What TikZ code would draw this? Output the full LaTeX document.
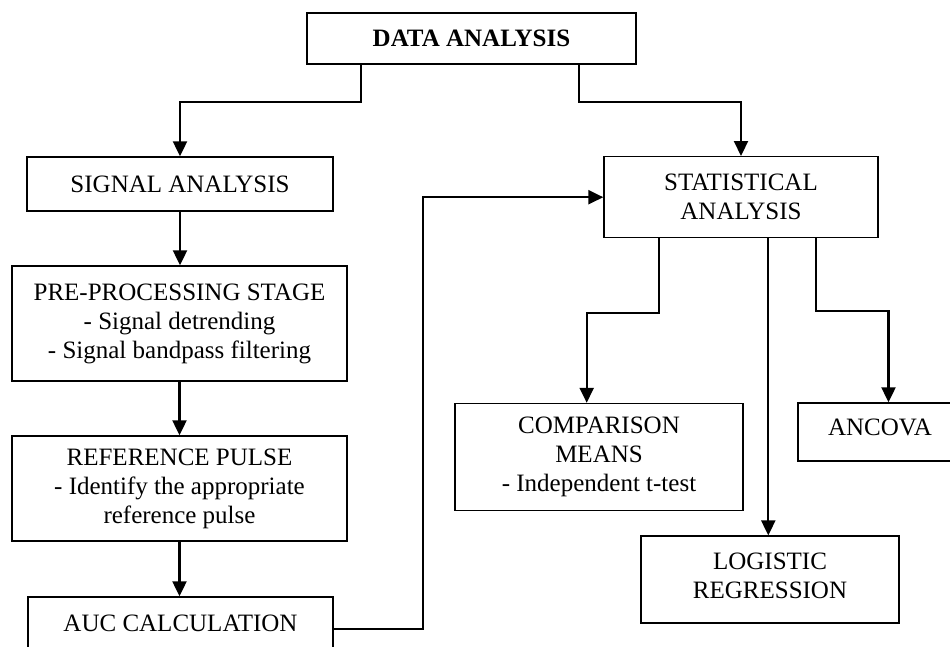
\documentclass[tikz,border=0pt]{standalone}
\usepackage{fontspec}
\setmainfont{Liberation Serif}
\usetikzlibrary{arrows.meta}
\begin{document}
\begin{tikzpicture}[x=1pt,y=-1pt,
  box/.style={draw=black, line width=1.4pt, inner sep=0pt, align=center,
    font=\fontsize{25}{29}\selectfont},
  txt/.style={inner sep=0pt, align=center, font=\fontsize{25}{29}\selectfont},
  conn/.style={line width=2.2pt, -{Triangle[length=15pt,width=14pt]}}]
\useasboundingbox (0,0) rectangle (950,646);
\clip (0,0) rectangle (950,646);
% boxes
\node[box, minimum width=329pt, minimum height=51pt] (da) at (471.5,38.5) {\textbf{DATA ANALYSIS}};
\node[box, minimum width=306pt, minimum height=54pt] (sig) at (180,184) {SIGNAL ANALYSIS};
\node[box, minimum width=335pt, minimum height=115pt] (pre) at (179.5,323.5)
  {PRE-PROCESSING STAGE\\- Signal detrending\\- Signal bandpass filtering};
\node[box, minimum width=335pt, minimum height=105pt] (ref) at (179.5,488.5)
  {REFERENCE PULSE\\- Identify the appropriate\\reference pulse};
\node[box, minimum width=305pt, minimum height=83pt] (auc) at (180.5,638.5) {};
\node[txt, anchor=base] (auct) at (180.5,631) {AUC CALCULATION};
\node[box, minimum width=274pt, minimum height=81pt] (stat) at (741,197.2) {STATISTICAL\\ANALYSIS};
\node[box, minimum width=288pt, minimum height=107pt] (comp) at (599,457)
  {COMPARISON\\MEANS\\- Independent t-test};
\node[box, minimum width=164pt, minimum height=58pt] (anc) at (880,432) {};
\node[txt, anchor=base] (anct) at (880,435.5) {ANCOVA};
\node[box, minimum width=258pt, minimum height=87pt] (log) at (770,579.6) {};
\node[txt] (logt) at (770,576) {LOGISTIC\\REGRESSION};
% routing points
\coordinate (l1) at (361,102);
\coordinate (r1) at (579,102);
\coordinate (a1) at (423.3,629);
\coordinate (b1) at (658.7,312.7);
\coordinate (b2) at (586.7,312.7);
\coordinate (c1) at (768.3,400);
\coordinate (d1) at (816,311.3);
\coordinate (d2) at (888.5,311.3);
% connectors
\draw[conn] (l1 |- da.south) -- (l1) -| (sig.north);
\draw[conn] (r1 |- da.south) -- (r1) -| (stat.north);
\draw[conn] (sig.south) -- (sig.south |- pre.north);
\draw[conn] (pre.south) -- (ref.north);
\draw[conn] (ref.south) -- (ref.south |- auc.north);
\draw[conn] (a1 -| auc.east) -- (a1) |- (stat.west);
\draw[conn] (b1 |- stat.south) -- (b1) -- (b2) -- (b2 |- comp.north);
\draw[conn] (c1 |- stat.south) -- (c1 |- log.north);
\draw[conn] (d1 |- stat.south) -- (d1) -- (d2) -- (d2 |- anc.north);
\end{tikzpicture}
\end{document}
